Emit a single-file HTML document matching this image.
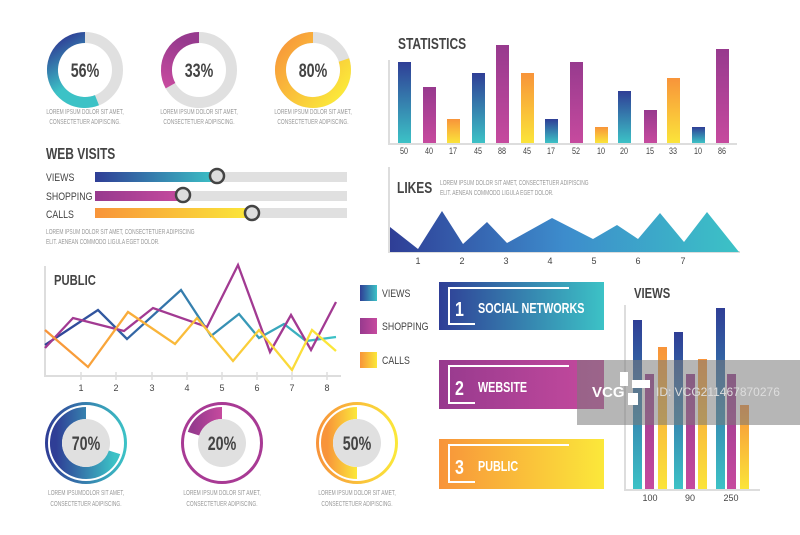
<!DOCTYPE html>
<html><head><meta charset="utf-8"><style>
html,body{margin:0;padding:0;background:#fff;}
svg{display:block;font-family:"Liberation Sans",sans-serif;}
.t{font-weight:bold;fill:#444;}
.s{fill:#999;font-size:7px;}
.w{fill:#fff;font-weight:bold;}
</style></head><body>
<svg width="800" height="535" viewBox="0 0 800 535" xmlns="http://www.w3.org/2000/svg">
<defs>
<linearGradient id="bv" x1="0" y1="0" x2="0" y2="1"><stop offset="0" stop-color="#2f3e96"/><stop offset="1" stop-color="#3cc2c6"/></linearGradient>
<linearGradient id="mv" x1="0" y1="0" x2="0" y2="1"><stop offset="0" stop-color="#973a8e"/><stop offset="1" stop-color="#c64a9e"/></linearGradient>
<linearGradient id="ov" x1="0" y1="0" x2="0" y2="1"><stop offset="0" stop-color="#f8943a"/><stop offset="1" stop-color="#fbe43a"/></linearGradient>
<linearGradient id="bh" x1="0" y1="0" x2="1" y2="0"><stop offset="0" stop-color="#2f3e96"/><stop offset="1" stop-color="#3cc2c6"/></linearGradient>
<linearGradient id="mh" x1="0" y1="0" x2="1" y2="0"><stop offset="0" stop-color="#973a8e"/><stop offset="1" stop-color="#c64a9e"/></linearGradient>
<linearGradient id="oh" x1="0" y1="0" x2="1" y2="0"><stop offset="0" stop-color="#f8943a"/><stop offset="1" stop-color="#fbe83a"/></linearGradient>
<linearGradient id="bd" x1="0.2" y1="0" x2="0.6" y2="1"><stop offset="0" stop-color="#2f3e96"/><stop offset="0.7" stop-color="#3cc2c6"/></linearGradient>
<linearGradient id="md" x1="0.3" y1="0" x2="0" y2="1"><stop offset="0" stop-color="#973a8e"/><stop offset="1" stop-color="#c64a9e"/></linearGradient>
<linearGradient id="od" x1="0" y1="0" x2="1" y2="0.8"><stop offset="0" stop-color="#f8943a"/><stop offset="1" stop-color="#fbe83a"/></linearGradient>
<linearGradient id="lk" gradientUnits="userSpaceOnUse" x1="390" y1="0" x2="738" y2="0"><stop offset="0" stop-color="#2f3e96"/><stop offset="0.5" stop-color="#3d8ccc"/><stop offset="1" stop-color="#3cc2c6"/></linearGradient>
</defs>

<!-- Top donuts -->
<g fill="none" stroke-width="11">
<circle cx="85" cy="70" r="32.5" stroke="#e0e0e0"/>
<path d="M85,37.5 A32.5,32.5 0 1 0 96.97,100.2" stroke="url(#bd)"/>
<circle cx="199" cy="70" r="32.5" stroke="#e0e0e0"/>
<path d="M199,37.5 A32.5,32.5 0 0 0 170.5,85.7" stroke="url(#md)"/>
<circle cx="313" cy="70" r="32.5" stroke="#e0e0e0"/>
<path d="M313,37.5 A32.5,32.5 0 1 0 343.9,60" stroke="url(#od)"/>
</g>
<g class="t" font-size="19" text-anchor="middle">
<text transform="translate(85,77) scale(0.75,1)">56%</text>
<text transform="translate(199,77) scale(0.75,1)">33%</text>
<text transform="translate(313,77) scale(0.75,1)">80%</text>
</g>
<g class="s" text-anchor="middle">
<text transform="translate(85,114) scale(0.7,1)">LOREM IPSUM DOLOR SIT AMET,</text>
<text transform="translate(85,124) scale(0.7,1)">CONSECTETUER ADIPISCING.</text>
<text transform="translate(199,114) scale(0.7,1)">LOREM IPSUM DOLOR SIT AMET,</text>
<text transform="translate(199,124) scale(0.7,1)">CONSECTETUER ADIPISCING.</text>
<text transform="translate(313,114) scale(0.7,1)">LOREM IPSUM DOLOR SIT AMET,</text>
<text transform="translate(313,124) scale(0.7,1)">CONSECTETUER ADIPISCING.</text>
</g>

<!-- Web visits -->
<text class="t" font-size="16" transform="translate(46,159) scale(0.75,1)">WEB VISITS</text>
<g fill="#444" font-size="11">
<text transform="translate(46,181) scale(0.8,1)">VIEWS</text>
<text transform="translate(46,200) scale(0.8,1)">SHOPPING</text>
<text transform="translate(46,218) scale(0.8,1)">CALLS</text>
</g>
<rect x="95" y="172" width="252" height="10" fill="#e0e0e0"/>
<rect x="95" y="172" width="122" height="10" fill="url(#bh)"/>
<rect x="95" y="191" width="252" height="10" fill="#e0e0e0"/>
<rect x="95" y="191" width="88" height="10" fill="url(#mh)"/>
<rect x="95" y="208" width="252" height="10" fill="#e0e0e0"/>
<rect x="95" y="208" width="157" height="10" fill="url(#oh)"/>
<g fill="#ddd" stroke="#444" stroke-width="2.5">
<circle cx="217" cy="176" r="7"/><circle cx="183" cy="195" r="7"/><circle cx="252" cy="213" r="7"/>
</g>
<text class="s" transform="translate(46,234) scale(0.7,1)">LOREM IPSUM DOLOR SIT AMET, CONSECTETUER ADIPISCING</text>
<text class="s" transform="translate(46,244) scale(0.7,1)">ELIT. AENEAN COMMODO LIGULA EGET DOLOR.</text>

<!-- Statistics -->
<text class="t" font-size="16" transform="translate(398,49) scale(0.75,1)">STATISTICS</text>
<line x1="389" y1="60" x2="389" y2="145" stroke="#ddd" stroke-width="2"/>
<line x1="389" y1="144" x2="737" y2="144" stroke="#ddd" stroke-width="2"/>
<g>
<rect x="398" y="62" width="13" height="81" fill="url(#bv)"/>
<rect x="423" y="87" width="13" height="56" fill="url(#mv)"/>
<rect x="447" y="119" width="13" height="24" fill="url(#ov)"/>
<rect x="472" y="73" width="13" height="70" fill="url(#bv)"/>
<rect x="496" y="45" width="13" height="98" fill="url(#mv)"/>
<rect x="521" y="73" width="13" height="70" fill="url(#ov)"/>
<rect x="545" y="119" width="13" height="24" fill="url(#bv)"/>
<rect x="570" y="62" width="13" height="81" fill="url(#mv)"/>
<rect x="595" y="127" width="13" height="16" fill="url(#ov)"/>
<rect x="618" y="91" width="13" height="52" fill="url(#bv)"/>
<rect x="644" y="110" width="13" height="33" fill="url(#mv)"/>
<rect x="667" y="78" width="13" height="65" fill="url(#ov)"/>
<rect x="692" y="127" width="13" height="16" fill="url(#bv)"/>
<rect x="716" y="49" width="13" height="94" fill="url(#mv)"/>
</g>
<g fill="#444" font-size="9" text-anchor="middle">
<text transform="translate(404,154) scale(0.8,1)">50</text>
<text transform="translate(429,154) scale(0.8,1)">40</text>
<text transform="translate(453,154) scale(0.8,1)">17</text>
<text transform="translate(478,154) scale(0.8,1)">45</text>
<text transform="translate(502,154) scale(0.8,1)">88</text>
<text transform="translate(527,154) scale(0.8,1)">45</text>
<text transform="translate(551,154) scale(0.8,1)">17</text>
<text transform="translate(576,154) scale(0.8,1)">52</text>
<text transform="translate(601,154) scale(0.8,1)">10</text>
<text transform="translate(624,154) scale(0.8,1)">20</text>
<text transform="translate(650,154) scale(0.8,1)">15</text>
<text transform="translate(673,154) scale(0.8,1)">33</text>
<text transform="translate(698,154) scale(0.8,1)">10</text>
<text transform="translate(722,154) scale(0.8,1)">86</text>
</g>

<!-- Likes -->
<line x1="389" y1="167" x2="389" y2="253" stroke="#ddd" stroke-width="2"/>
<line x1="389" y1="252" x2="740" y2="252" stroke="#ddd" stroke-width="2"/>
<text class="t" font-size="16" transform="translate(397,193) scale(0.75,1)">LIKES</text>
<text class="s" transform="translate(440,185) scale(0.7,1)">LOREM IPSUM DOLOR SIT AMET, CONSECTETUER ADIPISCING</text>
<text class="s" transform="translate(440,195) scale(0.7,1)">ELIT. AENEAN COMMODO LIGULA EGET DOLOR.</text>
<polygon points="390,227 418,249 442,211 463,244 487,222 507,243 552,218 593,239 617,225 638,239 660,213 684,242 707,212 739,252 390,252" fill="url(#lk)"/>
<g fill="#444" font-size="9" text-anchor="middle">
<text x="418" y="264">1</text><text x="462" y="264">2</text><text x="506" y="264">3</text><text x="550" y="264">4</text><text x="594" y="264">5</text><text x="638" y="264">6</text><text x="683" y="264">7</text>
</g>

<!-- Public -->
<line x1="45" y1="266" x2="45" y2="377" stroke="#ddd" stroke-width="2"/>
<line x1="45" y1="376" x2="341" y2="376" stroke="#ddd" stroke-width="2"/>
<g stroke="#ddd" stroke-width="1.5">
<line x1="81" y1="372" x2="81" y2="380"/><line x1="116" y1="372" x2="116" y2="380"/><line x1="152" y1="372" x2="152" y2="380"/><line x1="187" y1="372" x2="187" y2="380"/><line x1="222" y1="372" x2="222" y2="380"/><line x1="257" y1="372" x2="257" y2="380"/><line x1="292" y1="372" x2="292" y2="380"/><line x1="327" y1="372" x2="327" y2="380"/>
</g>
<text class="t" font-size="15" transform="translate(54,285) scale(0.75,1)">PUBLIC</text>
<g fill="#444" font-size="9" text-anchor="middle">
<text x="81" y="391">1</text><text x="116" y="391">2</text><text x="152" y="391">3</text><text x="187" y="391">4</text><text x="222" y="391">5</text><text x="257" y="391">6</text><text x="292" y="391">7</text><text x="327" y="391">8</text>
</g>
<g fill="none" stroke-width="2.3" stroke-linejoin="miter">
<polyline stroke="url(#bh)" points="45,345 98,310 127,339 181,290 211,336 239,314 259,338 284,324 306,341 336,337"/>
<polyline stroke="#a23a92" points="45,348 73,318 124,331 153,308 207,327 238,265 270,352 291,315 311,350 336,302"/>
<polyline stroke="url(#oh)" points="45,330 88,367 128,312 175,344 197,318 233,361 259,330 292,370 312,330 336,351"/>
</g>
<rect x="360" y="285" width="17" height="16" fill="url(#bh)"/>
<rect x="360" y="318" width="17" height="16" fill="url(#mh)"/>
<rect x="360" y="352" width="17" height="16" fill="url(#oh)"/>
<g fill="#444" font-size="11">
<text transform="translate(382,297) scale(0.8,1)">VIEWS</text>
<text transform="translate(382,330) scale(0.8,1)">SHOPPING</text>
<text transform="translate(382,364) scale(0.8,1)">CALLS</text>
</g>

<!-- Boxes -->
<rect x="439" y="282" width="165" height="48" fill="url(#bh)"/>
<rect x="439" y="360" width="165" height="49" fill="url(#mh)"/>
<rect x="439" y="439" width="165" height="50" fill="url(#oh)"/>
<g fill="none" stroke="#fff" stroke-width="2">
<polyline points="569,288 449,288 449,324 475,324"/>
<polyline points="569,366 449,366 449,403 475,403"/>
<polyline points="569,445 449,445 449,482 475,482"/>
</g>
<g class="w">
<text font-size="20" transform="translate(455,316) scale(0.8,1)">1</text>
<text font-size="20" transform="translate(455,395) scale(0.8,1)">2</text>
<text font-size="20" transform="translate(455,474) scale(0.8,1)">3</text>
<text font-size="15" transform="translate(478,313) scale(0.72,1)">SOCIAL NETWORKS</text>
<text font-size="15" transform="translate(478,392) scale(0.72,1)">WEBSITE</text>
<text font-size="15" transform="translate(478,471) scale(0.72,1)">PUBLIC</text>
</g>

<!-- Views chart -->
<text class="t" font-size="15" transform="translate(634,298) scale(0.75,1)">VIEWS</text>
<line x1="625" y1="305" x2="625" y2="491" stroke="#ddd" stroke-width="2"/>
<line x1="625" y1="490" x2="760" y2="490" stroke="#ddd" stroke-width="2"/>
<rect x="633" y="320" width="9" height="169" fill="url(#bv)"/>
<rect x="645" y="374" width="9" height="115" fill="url(#mv)"/>
<rect x="658" y="347" width="9" height="142" fill="url(#ov)"/>
<rect x="674" y="332" width="9" height="157" fill="url(#bv)"/>
<rect x="686" y="374" width="9" height="115" fill="url(#mv)"/>
<rect x="698" y="359" width="9" height="130" fill="url(#ov)"/>
<rect x="716" y="308" width="9" height="181" fill="url(#bv)"/>
<rect x="727" y="374" width="9" height="115" fill="url(#mv)"/>
<rect x="740" y="405" width="9" height="84" fill="url(#ov)"/>
<g fill="#444" font-size="9" text-anchor="middle">
<text x="650" y="501">100</text><text x="690" y="501">90</text><text x="731" y="501">250</text>
</g>

<!-- Watermark band -->
<rect x="577" y="360" width="223" height="65" fill="#7a7a7a" fill-opacity="0.55"/>
<text x="592" y="397" fill="#fff" font-size="15" font-weight="bold">VCG</text>
<g fill="#fff"><rect x="620" y="372" width="8" height="14"/><rect x="632" y="380" width="18" height="8"/><rect x="628" y="393" width="10" height="12"/></g>
<text x="656" y="396" fill="#ddd" font-size="12">ID: VCG211467870276</text>

<!-- Bottom rings -->
<g fill="none">
<circle cx="86" cy="443" r="39.5" stroke="url(#bh)" stroke-width="3"/>
<path d="M86,413 A30,30 0 1 0 114.5,452.3" stroke="url(#bh)" stroke-width="12"/>
<circle cx="222" cy="443" r="39.5" stroke="#a83a94" stroke-width="3"/>
<path d="M222,413 A30,30 0 0 0 193.5,433.7" stroke="url(#mh)" stroke-width="12"/>
<circle cx="357" cy="443" r="39.5" stroke="url(#oh)" stroke-width="3"/>
<path d="M357,413 A30,30 0 0 0 357,473" stroke="url(#oh)" stroke-width="12"/>
</g>
<g fill="#e0e0e0"><circle cx="86" cy="443" r="24"/><circle cx="222" cy="443" r="24"/><circle cx="357" cy="443" r="24"/></g>
<g class="t" font-size="19" text-anchor="middle">
<text transform="translate(86,450) scale(0.75,1)">70%</text>
<text transform="translate(222,450) scale(0.75,1)">20%</text>
<text transform="translate(357,450) scale(0.75,1)">50%</text>
</g>
<g class="s" text-anchor="middle">
<text transform="translate(86,495) scale(0.7,1)">LOREM IPSUMDOLOR SIT AMET,</text>
<text transform="translate(86,506) scale(0.7,1)">CONSECTETUER ADIPISCING.</text>
<text transform="translate(222,495) scale(0.7,1)">LOREM IPSUM DOLOR SIT AMET,</text>
<text transform="translate(222,506) scale(0.7,1)">CONSECTETUER ADIPISCING.</text>
<text transform="translate(357,495) scale(0.7,1)">LOREM IPSUM DOLOR SIT AMET,</text>
<text transform="translate(357,506) scale(0.7,1)">CONSECTETUER ADIPISCING.</text>
</g>
</svg>
</body></html>
